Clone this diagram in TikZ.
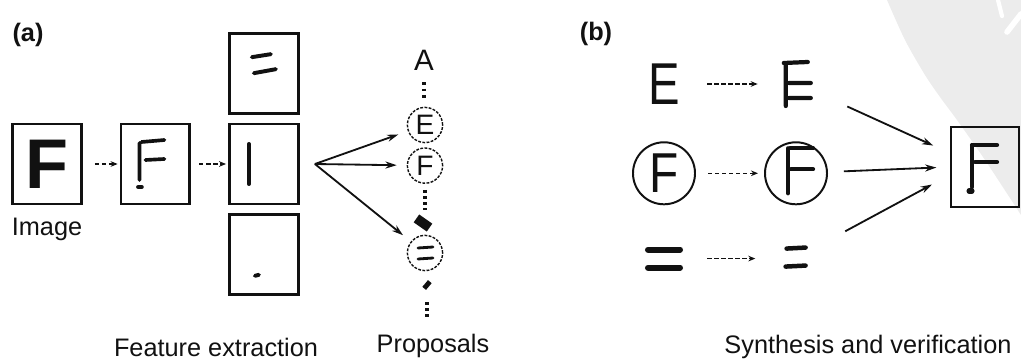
\documentclass[tikz,border=0pt]{standalone}
\usepackage{graphicx}
\usepackage{fontspec}
\setmainfont{Liberation Sans}
\usetikzlibrary{arrows.meta, positioning}

\definecolor{inkblack}{RGB}{17,17,17}
\definecolor{scangrey}{RGB}{236,236,236}

\begin{document}
\begin{tikzpicture}[
  x=0.025cm, y=-0.025cm,
  every node/.style={text=inkblack},
  panel/.style={font=\fontsize{18}{21}\selectfont\bfseries, inner sep=0pt},
  caption/.style={font=\fontsize{18}{21}\selectfont, inner sep=0pt},
  glyphbox/.style={draw=inkblack, line width=2pt, minimum width=1.72cm, minimum height=2cm, inner sep=0pt},
  proposal/.style={draw=inkblack, line width=1pt, dash pattern=on 2pt off 1pt, circle, minimum size=0.88cm, inner sep=0pt, font=\fontsize{20}{20}\selectfont},
  ring/.style={draw=inkblack, line width=1.4pt, circle, minimum size=1.55cm, inner sep=0pt, font=\fontsize{40}{40}\selectfont},
  glyph/.style={minimum size=1.55cm, inner sep=0pt},
  stroke/.style={draw=inkblack, line width=2.6pt, line cap=round},
  propdots/.style={draw=inkblack, line width=2.2pt, dash pattern=on 2pt off 2.4pt},
  thinlink/.style={draw=inkblack, densely dashed, thick, -{Stealth[length=5pt, width=4pt]}},
  fanlink/.style={draw=inkblack, line width=1.3pt, -{Stealth[length=8pt, width=5pt]}}
]
\useasboundingbox (0,0) rectangle (1021,361);

% Scanner shadow
\fill[scangrey] plot[smooth] coordinates {(887,0) (905,40) (925,75) (940,97) (957,120) (985,160) (1021,215)} -- (1021,0) -- cycle;
\draw[white, line width=3pt, line cap=round] (998,0) -- (1002,16);
\draw[white, line width=4pt, line cap=round] (1007,32) -- (1021,14);

% (a) Feature extraction
\node[panel] (labela) at (28,35) {(a)};
\node[glyphbox] (image) at (47,164) {\fontsize{50}{50}\selectfont\bfseries F};
\node[caption, below=0.3cm of image] (imagelbl) {Image};
\node[glyphbox, right=0.92cm of image] (feat) {};
\node[glyphbox, right=0.92cm of feat] (partbar) {};
\node[glyphbox, above=0.2cm of partbar] (partbars) {};
\node[glyphbox, below=0.2cm of partbar] (partdot) {};
\node[caption] (featlbl) at (216,347) {Feature extraction};

\draw[stroke, shift={(feat.center)}] (-16,-21) -- (-16,16) (-14,-22) -- (9,-24) (-10,-4) -- (9,-5);
\draw[stroke, line width=3.4pt, shift={(feat.center)}] (-17,23) -- (-14,23);
\draw[stroke, line width=2.8pt, shift={(partbars.center)}] (-12,-16) -- (7,-19) (-10,0) -- (12,-4);
\draw[stroke, line width=2.8pt, shift={(partbar.center)}] (-15,-20) -- (-15,20);
\draw[stroke, line width=2.8pt, shift={(partdot.center)}] (-9,21) -- (-5,20);

\draw[thinlink, shorten <=0.3cm, shorten >=0.05cm] (image) -- (feat);
\draw[thinlink, shorten <=0.2cm, shorten >=0.05cm] (feat) -- (partbar);

% Proposals
\coordinate[right=0.38cm of partbar.east] (fork);
\node[font=\fontsize{21}{21}\selectfont, inner sep=0pt] (propA) at (424,60) {A};
\node[proposal] (propE) at (425,125) {E};
\node[proposal, below=0.1cm of propE] (propF) {F};
\node[fill=inkblack, minimum width=0.4cm, minimum height=0.24cm, inner sep=0pt, rotate=-35] (blotch) at (423,223) {};
\node[proposal] (propEq) at (425,253) {};
\node[fill=inkblack, minimum width=0.22cm, minimum height=0.12cm, inner sep=0pt, rotate=50] (speck) at (427,285) {};
\node[caption] (proplbl) at (433,346) {Proposals};

\draw[stroke, line width=2pt, shift={(propEq.center)}] (-7,-5) -- (8,-6) (-7,6) -- (8,5);
\draw[propdots] (propA.south) ++(0,12) -- ++(0,18);
\draw[propdots] (propF.south) ++(0,6) -- ++(0,20);
\draw[propdots] (speck) ++(0,17) -- ++(0,18);

\draw[fanlink, shorten >=0.25cm] (fork) -- (propE);
\draw[fanlink, shorten >=0.25cm] (fork) -- (propF);
\draw[fanlink, shorten >=0.25cm] (fork) -- (propEq);

% (b) Synthesis and verification
\node[panel] (labelb) at (596,34) {(b)};
\node[glyph, font=\fontsize{42}{42}\selectfont] (srcE) at (664,84) {\scalebox{0.8}[1]{E}};
\node[glyph, right=1.78cm of srcE] (synE) {};
\node[ring, below=0.65cm of srcE] (srcF) {\scalebox{0.85}[1]{F}};
\node[ring, right=1.7cm of srcF] (synF) {};
\node[glyph, below=0.55cm of srcF] (srcEq) {};
\node[glyph, right=1.7cm of srcEq] (synEq) {};
\node[glyphbox, minimum width=1.7cm] (result) at (985,167) {};
\node[caption] (synlbl) at (868,347) {Synthesis and verification};

\draw[stroke, line width=3pt, shift={(synE.center)}] (-12,-21) -- (-12,22) (-14,-21) -- (10,-22) (-9,-1) -- (13,-1) (-9,14) -- (13,14);
\draw[stroke, line width=3pt, shift={(synF.center)}] (-8,-25) -- (-8,20) (-6,-25) -- (17,-25) (-5,-4) -- (17,-4);
\draw[stroke, line width=4.3pt, shift={(srcEq.center)}] (-16,-9) -- (16,-9) (-16,9) -- (16,9);
\draw[stroke, line width=3.2pt, shift={(synEq.center)}] (-8,-10) -- (11,-11) (-9,8) -- (11,7);
\draw[stroke, line width=3pt, shift={(result.center)}] (-13,-22) -- (-13,20) (-13,-22) -- (12,-22) (-10,-5) -- (12,-5);
\draw[stroke, line width=3.6pt, shift={(result.center)}] (-16,24) -- (-13,24);

\draw[thinlink, shorten <=0.3cm, shorten >=0.22cm] (srcE) -- (synE);
\draw[thinlink, shorten <=0.3cm, shorten >=0.15cm] (srcF) -- (synF);
\draw[thinlink, shorten <=0.3cm, shorten >=0.2cm] (srcEq) -- (synEq);

\draw[fanlink, shorten <=0.5cm, shorten >=0.45cm] (synE) -- ([yshift=0.35cm]result.west);
\draw[fanlink, shorten <=0.4cm, shorten >=0.33cm] (synF) -- (result.west);
\draw[fanlink, shorten <=0.55cm, shorten >=0.5cm] (synEq) -- ([yshift=-0.2cm]result.west);

\end{tikzpicture}
\end{document}
